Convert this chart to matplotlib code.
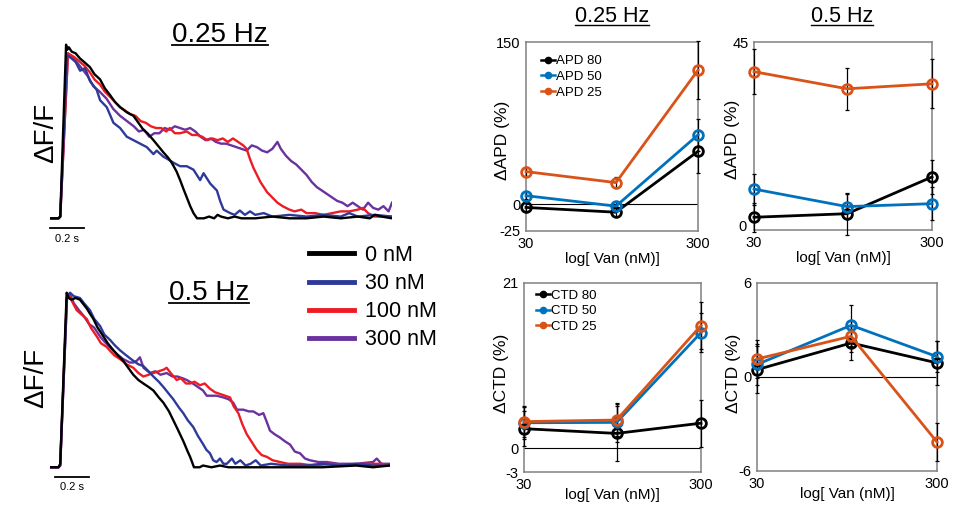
import matplotlib
matplotlib.use("Agg")
import matplotlib.pyplot as plt
from matplotlib.lines import Line2D
from matplotlib.ticker import NullLocator

plt.rcParams['font.family'] = ['Liberation Sans', 'DejaVu Sans']

# ---------------- optical traces (time in s, normalised dF/F) ----------------
trace_labels = ['0 nM', '30 nM', '100 nM', '300 nM']
trace_colors = ['#000000', '#2E3A9A', '#ED1C24', '#6A329F']

t25_black = [(0.00, 0.00), (0.05, 0.00), (0.06, 0.01), (0.094, 1.00), (0.10, 0.97), (0.11, 0.985),
             (0.127, 0.96), (0.15, 0.95), (0.176, 0.92), (0.20, 0.90), (0.234, 0.87), (0.26, 0.83),
             (0.293, 0.80), (0.32, 0.75), (0.351, 0.71), (0.38, 0.67), (0.41, 0.64), (0.45, 0.61),
             (0.488, 0.59), (0.51, 0.56), (0.546, 0.51), (0.57, 0.49), (0.605, 0.45), (0.63, 0.42),
             (0.663, 0.38), (0.69, 0.35), (0.712, 0.32), (0.74, 0.27), (0.761, 0.22), (0.78, 0.17),
             (0.80, 0.12), (0.82, 0.07), (0.839, 0.03), (0.86, 0.00), (0.90, 0.00), (0.93, 0.01),
             (0.96, 0.00), (0.98, 0.02), (1.00, 0.01), (1.04, 0.00), (1.08, 0.01), (1.12, 0.00),
             (1.20, 0.00), (1.30, 0.01), (1.40, 0.00), (1.50, 0.00), (1.60, 0.01), (1.70, 0.00),
             (1.80, 0.01), (1.87, 0.00), (1.90, 0.02), (1.94, 0.01), (2.00, 0.00)]
t25_blue = [(0.00, 0.00), (0.05, 0.00), (0.06, 0.01), (0.10, 0.94), (0.127, 0.92), (0.15, 0.90),
            (0.176, 0.85), (0.205, 0.865), (0.234, 0.79), (0.273, 0.74), (0.293, 0.68), (0.332, 0.64),
            (0.371, 0.55), (0.41, 0.52), (0.449, 0.47), (0.488, 0.45), (0.527, 0.43), (0.566, 0.41),
            (0.605, 0.37), (0.624, 0.39), (0.663, 0.355), (0.69, 0.34), (0.722, 0.32), (0.761, 0.30),
            (0.80, 0.30), (0.839, 0.28), (0.878, 0.22), (0.898, 0.26), (0.937, 0.20), (0.976, 0.16),
            (0.995, 0.10), (1.015, 0.05), (1.054, 0.03), (1.08, 0.02), (1.11, 0.045), (1.14, 0.02),
            (1.17, 0.04), (1.20, 0.02), (1.25, 0.03), (1.30, 0.01), (1.40, 0.02), (1.50, 0.01),
            (1.60, 0.02), (1.70, 0.01), (1.75, 0.03), (1.80, 0.01), (1.90, 0.02), (2.00, 0.01)]
t25_red = [(0.00, 0.00), (0.05, 0.00), (0.06, 0.01), (0.105, 0.95), (0.14, 0.93), (0.176, 0.90),
           (0.20, 0.88), (0.234, 0.84), (0.26, 0.80), (0.293, 0.77), (0.32, 0.73), (0.351, 0.70),
           (0.38, 0.67), (0.41, 0.64), (0.44, 0.62), (0.47, 0.60), (0.50, 0.59), (0.53, 0.56),
           (0.56, 0.55), (0.59, 0.53), (0.62, 0.52), (0.65, 0.52), (0.68, 0.50), (0.70, 0.52),
           (0.73, 0.49), (0.76, 0.49), (0.80, 0.50), (0.83, 0.48), (0.86, 0.48), (0.89, 0.47),
           (0.92, 0.45), (0.95, 0.46), (0.98, 0.45), (1.01, 0.46), (1.04, 0.44), (1.07, 0.46),
           (1.10, 0.44), (1.13, 0.42), (1.15, 0.40), (1.17, 0.34), (1.19, 0.29), (1.21, 0.25),
           (1.23, 0.21), (1.25, 0.18), (1.27, 0.15), (1.30, 0.12), (1.33, 0.09), (1.36, 0.07),
           (1.40, 0.05), (1.43, 0.04), (1.47, 0.05), (1.50, 0.03), (1.55, 0.03), (1.60, 0.02),
           (1.65, 0.03), (1.70, 0.04), (1.75, 0.04), (1.80, 0.05), (1.83, 0.06), (1.86, 0.03),
           (1.90, 0.01), (1.95, 0.01), (2.00, 0.01)]
t25_purple = [(0.00, 0.00), (0.05, 0.00), (0.06, 0.01), (0.105, 0.95), (0.14, 0.92), (0.18, 0.87),
              (0.22, 0.82), (0.254, 0.76), (0.29, 0.73), (0.33, 0.69), (0.37, 0.63), (0.41, 0.59),
              (0.45, 0.56), (0.49, 0.53), (0.52, 0.50), (0.55, 0.51), (0.58, 0.47), (0.61, 0.49),
              (0.64, 0.49), (0.67, 0.52), (0.70, 0.51), (0.73, 0.53), (0.76, 0.52), (0.79, 0.51),
              (0.82, 0.52), (0.85, 0.50), (0.88, 0.47), (0.91, 0.45), (0.94, 0.46), (0.97, 0.44),
              (1.00, 0.43), (1.03, 0.43), (1.06, 0.42), (1.09, 0.41), (1.12, 0.40), (1.15, 0.39),
              (1.18, 0.42), (1.21, 0.41), (1.24, 0.39), (1.27, 0.38), (1.30, 0.40), (1.33, 0.44),
              (1.35, 0.40), (1.38, 0.36), (1.41, 0.33), (1.44, 0.31), (1.47, 0.28), (1.50, 0.25),
              (1.53, 0.21), (1.56, 0.18), (1.59, 0.16), (1.62, 0.14), (1.65, 0.12), (1.68, 0.10),
              (1.71, 0.09), (1.74, 0.07), (1.77, 0.09), (1.80, 0.07), (1.83, 0.05), (1.86, 0.09),
              (1.89, 0.06), (1.92, 0.05), (1.95, 0.07), (1.98, 0.04), (2.00, 0.09)]

t05_black = [(0.00, 0.00), (0.05, 0.00), (0.06, 0.02), (0.098, 1.00), (0.11, 0.97), (0.127, 0.96),
             (0.15, 0.97), (0.176, 0.96), (0.20, 0.93), (0.216, 0.91), (0.235, 0.88), (0.255, 0.85),
             (0.28, 0.80), (0.314, 0.75), (0.34, 0.71), (0.373, 0.67), (0.40, 0.64), (0.431, 0.61),
             (0.46, 0.57), (0.49, 0.53), (0.52, 0.50), (0.549, 0.48), (0.58, 0.46), (0.608, 0.44),
             (0.64, 0.40), (0.667, 0.37), (0.70, 0.32), (0.725, 0.27), (0.75, 0.22), (0.784, 0.15),
             (0.81, 0.09), (0.824, 0.06), (0.847, 0.00), (0.88, 0.00), (0.90, 0.01), (0.95, 0.00),
             (1.00, 0.01), (1.05, 0.00), (1.20, 0.00), (1.40, 0.00), (1.60, 0.00), (1.80, 0.01),
             (1.90, 0.00), (2.00, 0.01)]
t05_blue = [(0.00, 0.00), (0.05, 0.00), (0.06, 0.01), (0.10, 0.98), (0.118, 1.00), (0.14, 0.98),
            (0.176, 0.97), (0.20, 0.94), (0.235, 0.90), (0.26, 0.85), (0.294, 0.81), (0.32, 0.76),
            (0.353, 0.73), (0.38, 0.70), (0.412, 0.67), (0.45, 0.64), (0.49, 0.61), (0.52, 0.59),
            (0.549, 0.58), (0.58, 0.55), (0.608, 0.52), (0.64, 0.49), (0.667, 0.46), (0.70, 0.42),
            (0.725, 0.39), (0.76, 0.34), (0.784, 0.31), (0.81, 0.27), (0.843, 0.23), (0.87, 0.18),
            (0.902, 0.13), (0.92, 0.10), (0.941, 0.08), (0.96, 0.04), (0.98, 0.03), (1.00, 0.05),
            (1.02, 0.02), (1.04, 0.02), (1.07, 0.05), (1.09, 0.02), (1.12, 0.04), (1.15, 0.01),
            (1.18, 0.02), (1.21, 0.04), (1.24, 0.01), (1.30, 0.02), (1.40, 0.01), (1.50, 0.01),
            (1.60, 0.02), (1.70, 0.01), (1.80, 0.02), (1.90, 0.01), (2.00, 0.01)]
t05_red = [(0.00, 0.00), (0.05, 0.00), (0.06, 0.01), (0.098, 0.96), (0.11, 0.99), (0.13, 0.95),
           (0.157, 0.90), (0.18, 0.88), (0.216, 0.85), (0.24, 0.80), (0.275, 0.75), (0.30, 0.71),
           (0.333, 0.69), (0.36, 0.66), (0.38, 0.64), (0.412, 0.62), (0.45, 0.59), (0.49, 0.57),
           (0.52, 0.54), (0.549, 0.52), (0.58, 0.53), (0.608, 0.54), (0.64, 0.55), (0.67, 0.56),
           (0.686, 0.57), (0.71, 0.54), (0.745, 0.50), (0.77, 0.51), (0.80, 0.48), (0.824, 0.48),
           (0.85, 0.49), (0.882, 0.47), (0.91, 0.48), (0.941, 0.45), (0.97, 0.43), (1.00, 0.42),
           (1.03, 0.41), (1.059, 0.40), (1.08, 0.35), (1.108, 0.31), (1.13, 0.25), (1.157, 0.19),
           (1.19, 0.14), (1.216, 0.10), (1.245, 0.07), (1.275, 0.06), (1.31, 0.04), (1.353, 0.03),
           (1.40, 0.02), (1.471, 0.02), (1.55, 0.01), (1.65, 0.02), (1.75, 0.01), (1.85, 0.02),
           (1.95, 0.02), (2.00, 0.01)]
t05_purple = [(0.00, 0.00), (0.05, 0.00), (0.06, 0.01), (0.10, 0.97), (0.118, 0.99), (0.14, 0.94),
              (0.17, 0.90), (0.196, 0.87), (0.23, 0.82), (0.26, 0.80), (0.294, 0.75), (0.32, 0.72),
              (0.35, 0.69), (0.392, 0.65), (0.43, 0.62), (0.47, 0.60), (0.49, 0.60), (0.51, 0.61),
              (0.529, 0.63), (0.55, 0.57), (0.588, 0.54), (0.62, 0.55), (0.65, 0.53), (0.686, 0.54),
              (0.72, 0.52), (0.75, 0.52), (0.78, 0.51), (0.804, 0.50), (0.84, 0.48), (0.87, 0.46),
              (0.90, 0.44), (0.922, 0.41), (0.95, 0.41), (0.98, 0.41), (1.02, 0.40), (1.05, 0.39),
              (1.078, 0.37), (1.10, 0.33), (1.137, 0.33), (1.17, 0.32), (1.196, 0.32), (1.23, 0.30),
              (1.255, 0.31), (1.275, 0.26), (1.294, 0.21), (1.32, 0.19), (1.353, 0.17), (1.38, 0.15),
              (1.412, 0.13), (1.44, 0.09), (1.471, 0.08), (1.50, 0.05), (1.529, 0.04), (1.58, 0.03),
              (1.627, 0.03), (1.70, 0.02), (1.80, 0.02), (1.90, 0.03), (1.922, 0.05), (1.95, 0.02),
              (2.00, 0.02)]

# ---------------- summary data ----------------
conc = [30, 100, 300]
apd_labels = ['APD 80', 'APD 50', 'APD 25']
ctd_labels = ['CTD 80', 'CTD 50', 'CTD 25']
summary_colors = ['#000000', '#0072BD', '#D95319']

apd025_mean = [[-3.2, -7.6, 48.8], [7.7, -2.0, 64.0], [30.0, 19.8, 124.0]]
apd025_err = [[4, 4, 20], [3, 4, 15], [4, 5, 27]]
apd05_mean = [[3.05, 3.9, 12.7], [9.8, 5.6, 6.3], [37.9, 33.8, 35.0]]
apd05_err = [[3.5, 5, 4], [3.7, 3, 4], [5.4, 5, 5.9]]
ctd025_mean = [[2.5, 1.9, 3.2], [3.25, 3.3, 14.7], [3.4, 3.6, 15.6]]
ctd025_err = [[2.2, 3.5, 3], [2, 2.5, 2.5], [2, 2, 3]]
ctd05_mean = [[0.47, 2.17, 0.9], [0.8, 3.3, 1.3], [1.15, 2.6, -4.15]]
ctd05_err = [[1.5, 1.1, 1.4], [1.3, 1.3, 1.0], [1.2, 1.0, 1.2]]

W, H = 974, 512
fig = plt.figure(figsize=(W / 100, H / 100), dpi=100)


def fbox(x0, y0, x1, y1):
    # pixel box (top-left origin) -> figure fraction rect
    return [x0 / W, 1 - y1 / H, (x1 - x0) / W, (y1 - y0) / H]


def trace_panel(rect, traces, bar):
    ax = fig.add_axes(rect)
    for tr, c in reversed(list(zip(traces, trace_colors))):
        ax.plot([p[0] for p in tr], [p[1] for p in tr], color=c, lw=1.7)
    ax.set_xlim(0, 2.0)
    ax.set_ylim(-0.05, 1.05)
    ax.axis('off')
    ax.plot([bar[0], bar[0] + 0.2], [bar[1], bar[1]], color='black', lw=1.3, clip_on=False)
    ax.text(bar[0] + 0.1, bar[1] - 0.03, '0.2 s', ha='center', va='top', fontsize=8)
    return ax


ax_t1 = trace_panel(fbox(50, 36, 392, 227), [t25_black, t25_blue, t25_red, t25_purple], (0.0, -0.058))
ax_t2 = trace_panel(fbox(50, 284, 390, 476), [t05_black, t05_blue, t05_red, t05_purple], (0.03, -0.057))

fig.text(46 / W, 1 - 133 / H, 'ΔF/F', rotation=90, ha='center', va='center', fontsize=20)
fig.text(36 / W, 1 - 378 / H, 'ΔF/F', rotation=90, ha='center', va='center', fontsize=20)

handles = [Line2D([], [], color=c, lw=3.5) for c in trace_colors]
fig.legend(handles, trace_labels, loc='upper left', bbox_to_anchor=(309 / W, 1 - 245 / H),
           frameon=False, fontsize=15.5, handlelength=2.1, handletextpad=0.5,
           labelspacing=0.33, borderpad=0, borderaxespad=0)

titles = [(220, 42.5, '0.25 Hz', 20), (209, 300.5, '0.5 Hz', 20),
          (612, 22.5, '0.25 Hz', 15.5), (842, 22.5, '0.5 Hz', 15.5)]
title_artists = []
for x, y, s, fs in titles:
    title_artists.append(fig.text(x / W, 1 - y / H, s, ha='center', va='baseline', fontsize=fs))


def summary_panel(rect, means, errs, ylim, yticks, labels=None, leg_xy=None, lab_xy=(-0.09, 0.5),
                  ylabel='ΔAPD (%)', zero=True):
    ax = fig.add_axes(rect)
    ax.set_xscale('log')
    for m, e, c in zip(means, errs, summary_colors):
        ax.errorbar(conc, m, yerr=e, fmt='none', ecolor='black', elinewidth=0.9, capsize=1.5,
                    capthick=0.9, zorder=3, clip_on=False)
        ax.plot(conc, m, color=c, lw=2, marker='o', ms=7, mfc='none', mec=c, mew=2,
                zorder=4, clip_on=False)
    if zero:
        ax.axhline(0, color='black', lw=0.8, zorder=1)
    ax.set_xlim(30, 300)
    ax.set_ylim(*ylim)
    ax.set_xticks([30, 300])
    ax.set_xticklabels(['30', '300'])
    ax.xaxis.set_minor_locator(NullLocator())
    ax.set_yticks(yticks)
    ax.set_yticklabels([str(v) for v in yticks])
    ax.tick_params(length=0, labelsize=10.5, pad=4)
    for sp in ax.spines.values():
        sp.set_color('#808080')
        sp.set_linewidth(1.1)
    ax.set_ylabel(ylabel, fontsize=12.5)
    ax.yaxis.set_label_coords(*lab_xy)
    ax.set_xlabel('log[ Van (nM)]', fontsize=11)
    if labels:
        hs = [Line2D([], [], color=c, lw=1.8, marker='o', ms=4.5) for c in summary_colors]
        ax.legend(hs, labels, loc='upper left', bbox_to_anchor=leg_xy, frameon=False,
                  fontsize=9.5, handlelength=1.0, handletextpad=0.1, labelspacing=0.25,
                  borderpad=0, borderaxespad=0)
    return ax


ax1 = summary_panel(fbox(526, 42, 698, 231), apd025_mean, apd025_err, (-25, 150), [-25, 0, 150],
                    apd_labels, (0.09, 0.93), (-0.093, 0.48))
ax1.xaxis.set_label_coords(0.5, -0.11)
ax2 = summary_panel(fbox(754, 42, 932, 230), apd05_mean, apd05_err, (0, 45), [45],
                    lab_xy=(-0.08, 0.48), zero=False)
ax2.xaxis.set_label_coords(0.5, -0.11)
# the bottom "0" sits a little above the corner so it clears the "30"
ax2.annotate('0', xy=(0, 0), xycoords=('axes fraction', 'data'), xytext=(-5.5, 2.5),
             textcoords='offset points', ha='right', va='center', fontsize=10.5)
ax3 = summary_panel(fbox(524, 283, 701, 472), ctd025_mean, ctd025_err, (-3, 21), [-3, 0, 21],
                    ctd_labels, (0.07, 0.965), (-0.085, 0.52), ylabel='ΔCTD (%)')
ax3.xaxis.set_label_coords(0.5, -0.085)
ax4 = summary_panel(fbox(757, 283, 937, 471), ctd05_mean, ctd05_err, (-6, 6), [-6, 0, 6],
                    lab_xy=(-0.089, 0.52), ylabel='ΔCTD (%)')
ax4.xaxis.set_label_coords(0.5, -0.085)

# underline the frequency titles
fig.canvas.draw()
inv = fig.transFigure.inverted()
for (x, y, s, fs), t in zip(titles, title_artists):
    bb = t.get_window_extent()
    x0 = inv.transform((bb.x0, 0))[0]
    x1 = inv.transform((bb.x1, 0))[0]
    yy = 1 - (y + 2.2) / H
    fig.add_artist(Line2D([x0, x1], [yy, yy], color='black', lw=1.3 if fs > 18 else 1.0))

fig.savefig('out.png', dpi=100)
